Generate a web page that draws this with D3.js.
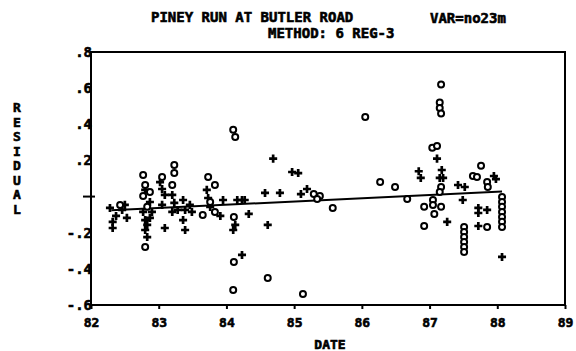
<!DOCTYPE html>
<html><head><meta charset="utf-8">
<script src="https://cdn.jsdelivr.net/npm/d3@7"></script>
<style>body{margin:0;background:#fff}svg{display:block}text{font-family:"DejaVu Sans Mono",monospace;font-weight:bold;fill:#000;stroke:#000;stroke-width:0.6px}</style>
</head><body><svg id="c" width="576" height="351"></svg>
<script>
const titleText = "PINEY RUN AT BUTLER ROAD";
const subtitleText = "METHOD: 6 REG-3";
const varText = "VAR=no23m";
const xLabel = "DATE";
const yLabel = "RESIDUAL";
const xTicks = [82, 83, 84, 85, 86, 87, 88, 89];
const yTicks = [0.8, 0.6, 0.4, 0.2, 0, -0.2, -0.4, -0.6];
const yTickLabels = [".8", ".6", ".4", ".2", "", "-.2", "-.4", "-.6"];

// open circle observations
const circleDates = [82.43,82.77,82.80,82.77,82.83,82.80,82.87,83.23,83.23,83.20,83.05,83.73,83.83,83.65,83.83,83.76,
  84.10,84.13,84.11,84.11,84.10,84.61,85.13,85.29,85.38,85.34,85.57,86.05,86.27,86.49,86.67,
  87.17,87.15,87.15,87.17,87.04,87.11,87.17,87.15,86.92,86.92,87.05,87.05,87.07,87.17,
  87.51,87.51,87.51,87.51,87.51,87.51,87.76,87.64,87.70,87.85,87.86,87.85,
  88.07,88.07,88.07,88.07,88.07,88.07,88.07];
const circleValues = [-0.046,0.12,0.064,0.003,-0.057,-0.279,0.025,0.175,0.13,0.064,0.108,0.108,0.064,-0.102,-0.085,-0.03,
  0.37,0.33,-0.113,-0.362,-0.517,-0.45,-0.539,0.014,0.003,-0.013,-0.063,0.44,0.08,0.053,-0.013,
  0.62,0.52,0.49,0.46,0.27,0.28,0.053,0.025,-0.057,-0.163,-0.019,-0.046,-0.096,-0.057,
  -0.168,-0.196,-0.224,-0.252,-0.279,-0.307,0.17,0.114,0.108,0.08,0.053,-0.168,
  -0.002,-0.03,-0.057,-0.085,-0.113,-0.14,-0.168];

// plus observations
const plusDates = [82.28,82.32,82.32,82.37,82.46,82.50,82.53,82.80,82.77,82.80,82.83,82.80,82.83,82.87,82.90,82.87,
  83.02,83.05,83.09,83.05,83.09,83.20,83.23,83.28,83.20,83.36,83.39,83.36,83.39,83.46,83.49,
  83.71,83.73,83.76,83.91,83.95,84.13,84.10,84.23,84.16,84.23,84.27,84.33,84.57,84.61,84.69,84.79,
  84.97,85.06,85.10,85.19,86.84,86.87,87.11,87.18,87.15,87.20,87.26,87.42,87.52,87.49,
  87.72,87.72,87.85,87.72,87.95,87.98,88.07];
const plusValues = [-0.063,-0.14,-0.174,-0.107,-0.074,-0.046,-0.118,0.037,-0.085,-0.13,-0.157,-0.185,-0.224,-0.03,-0.085,-0.118,
  0.08,0.042,0.009,-0.046,-0.174,0.009,-0.035,-0.074,-0.085,-0.019,-0.074,-0.13,-0.185,-0.046,-0.085,
  0.037,-0.008,-0.057,-0.107,-0.019,-0.157,-0.185,-0.323,-0.019,-0.019,-0.019,-0.096,0.02,-0.157,0.21,0.02,
  0.136,0.13,0.014,0.042,0.14,0.103,0.21,0.147,0.103,0.103,-0.14,0.064,0.053,-0.019,
  -0.063,-0.091,-0.074,-0.163,0.114,0.097,-0.334];

// regression line end points
const fitDates = [82.3, 88.07];
const fitValues = [-0.076, 0.028];

const svg = d3.select("#c");
const x = d3.scaleLinear().domain([82, 89]).range([91, 565]);
const y = d3.scaleLinear().domain([-0.6, 0.8]).range([305, 52]);

// frame
svg.append("rect").attr("x", x(82)).attr("y", y(0.8)).attr("width", x(89)-x(82)).attr("height", y(-0.6)-y(0.8))
  .attr("fill", "none").attr("stroke", "#000").attr("stroke-width", 2);

// bottom axis
const xAxis = d3.axisBottom(x).tickValues(xTicks).tickSize(4).tickPadding(9).tickFormat(d3.format("d"));
const gx = svg.append("g").attr("transform", `translate(0,${y(-0.6)})`).call(xAxis);
gx.select(".domain").remove();
gx.selectAll("line").attr("stroke-width", 2);
gx.selectAll("text").style("font-size", "13px").style("font-family", '"DejaVu Sans Mono",monospace').style("font-weight", "bold");

// left axis labels
const yAxis = d3.axisLeft(y).tickValues(yTicks).tickSize(0).tickPadding(-1).tickFormat((d, i) => yTickLabels[i]);
const gy = svg.append("g").attr("transform", `translate(${x(82)},0)`).call(yAxis);
gy.select(".domain").remove();
gy.selectAll("text").style("font-size", "14px").style("font-family", '"DejaVu Sans Mono",monospace').style("font-weight", "bold");
// zero cross tick
svg.append("line").attr("x1", x(82)-8).attr("x2", x(82)+4).attr("y1", y(0)).attr("y2", y(0)).attr("stroke", "#000").attr("stroke-width", 2);

// regression line
svg.append("line").attr("x1", x(fitDates[0])).attr("y1", y(fitValues[0])).attr("x2", x(fitDates[1])).attr("y2", y(fitValues[1]))
  .attr("stroke", "#000").attr("stroke-width", 2);

// points
svg.append("g").selectAll("path").data(plusDates.map((d, i) => [d, plusValues[i]])).join("path")
  .attr("transform", d => `translate(${x(d[0])},${y(d[1])})`)
  .attr("d", d3.symbol().type(d3.symbolCross).size(36)).attr("fill", "#000");
svg.append("g").selectAll("circle").data(circleDates.map((d, i) => [d, circleValues[i]])).join("circle")
  .attr("cx", d => x(d[0])).attr("cy", d => y(d[1])).attr("r", 3)
  .attr("fill", "#fff").attr("stroke", "#000").attr("stroke-width", 2);

// titles
svg.append("text").attr("x", 151).attr("y", 22).style("font-size", "14px").text(titleText);
svg.append("text").attr("x", 268).attr("y", 38).style("font-size", "14px").text(subtitleText);
svg.append("text").attr("x", 430).attr("y", 23).style("font-size", "14px").text(varText);
svg.append("text").attr("x", 330).attr("y", 349).attr("text-anchor", "middle").style("font-size", "13px").text(xLabel);
svg.append("g").selectAll("text").data(yLabel.split("")).join("text")
  .attr("x", 17).attr("y", (d, i) => 112 + i * 14.5).attr("text-anchor", "middle").style("font-size", "13px").text(d => d);
</script></body></html>
